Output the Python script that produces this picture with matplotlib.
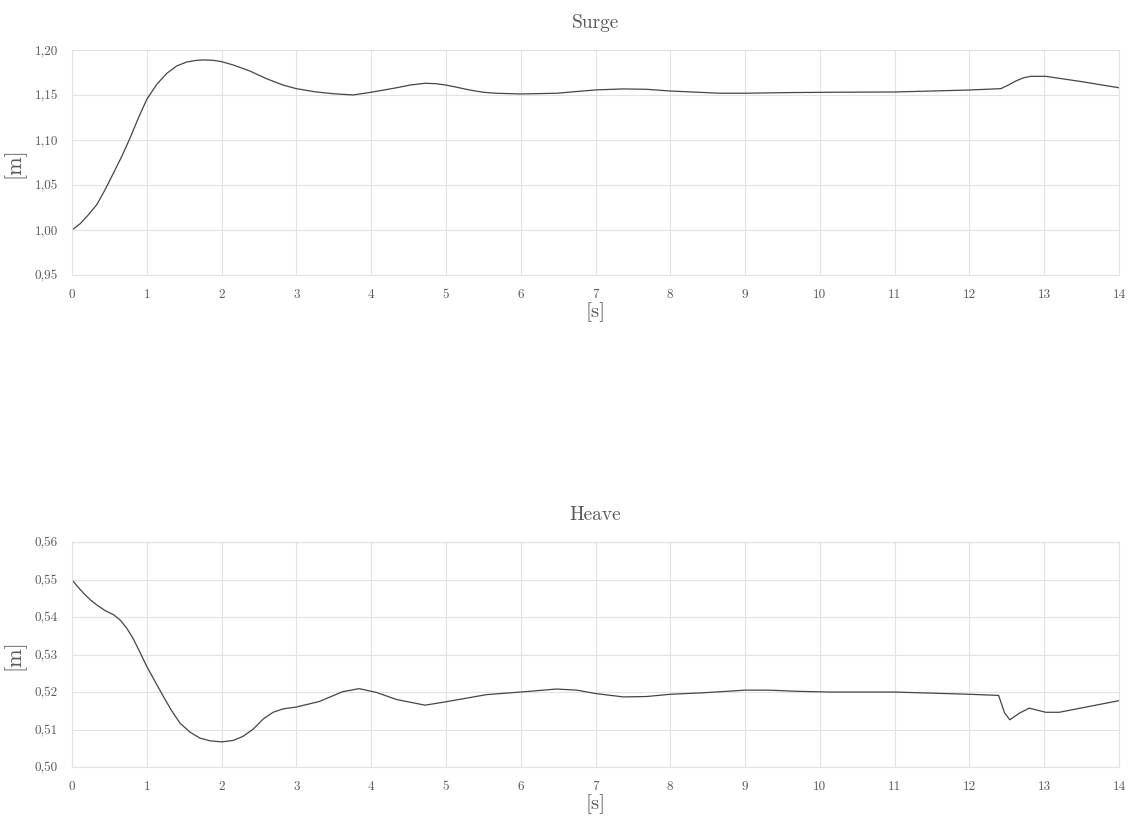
import matplotlib.pyplot as plt

plt.rcParams['font.family'] = ['cmr10', 'DejaVu Serif']
plt.rcParams['axes.unicode_minus'] = False

# surge time series
surge_t = [0, 0.111, 0.222, 0.333, 0.444, 0.556, 0.667, 0.778, 0.889, 1.0, 1.133, 1.267,
           1.4, 1.533, 1.667, 1.764, 1.889, 2.0, 2.156, 2.378, 2.6, 2.822, 3.0, 3.25, 3.49,
           3.76, 4.0, 4.17, 4.34, 4.52, 4.72, 4.87, 5.0, 5.15, 5.31, 5.5, 5.67, 6.0, 6.48,
           7.0, 7.37, 7.68, 8.0, 8.66, 9.0, 9.55, 10.13, 11.0, 12.0, 12.42, 12.52, 12.62,
           12.72, 12.82, 13.02, 13.5, 14.0]
surge_m = [1.000, 1.0071, 1.0171, 1.0283, 1.045, 1.0635, 1.082, 1.1025, 1.1247, 1.1451,
           1.1618, 1.174, 1.1822, 1.1866, 1.1885, 1.1889, 1.1885, 1.187, 1.1833, 1.1766,
           1.1681, 1.161, 1.157, 1.1535, 1.1514, 1.150, 1.153, 1.1555, 1.158, 1.161, 1.163,
           1.1625, 1.161, 1.1585, 1.1556, 1.153, 1.1519, 1.1511, 1.1519, 1.1556, 1.1567,
           1.1563, 1.1544, 1.1519, 1.1519, 1.1526, 1.153, 1.1533, 1.1555, 1.157, 1.161,
           1.1655, 1.169, 1.1707, 1.1707, 1.1648, 1.158]

# heave time series
heave_t = [0, 0.067, 0.156, 0.244, 0.333, 0.444, 0.556, 0.644, 0.733, 0.822, 0.911, 1.0,
           1.111, 1.222, 1.333, 1.444, 1.578, 1.711, 1.844, 2.0, 2.156, 2.289, 2.422, 2.556,
           2.689, 2.822, 3.0, 3.31, 3.62, 3.84, 4.07, 4.34, 4.72, 5.0, 5.54, 6.0, 6.48,
           6.75, 7.0, 7.37, 7.68, 8.0, 8.44, 9.0, 9.33, 9.68, 10.13, 11.0, 12.0, 12.39,
           12.47, 12.54, 12.67, 12.8, 13.02, 13.2, 14.0]
heave_m = [0.5499, 0.5483, 0.5463, 0.5446, 0.5432, 0.5417, 0.5406, 0.5392, 0.537, 0.5341,
           0.5305, 0.5268, 0.5228, 0.5188, 0.515, 0.5117, 0.5093, 0.5077, 0.507, 0.5067,
           0.5071, 0.5082, 0.5101, 0.5128, 0.5146, 0.5155, 0.516, 0.5175, 0.5201, 0.5209,
           0.5199, 0.518, 0.5165, 0.5174, 0.5193, 0.520, 0.5208, 0.5205, 0.5196, 0.5187,
           0.5188, 0.5194, 0.5198, 0.5205, 0.5205, 0.5202, 0.520, 0.520, 0.5194, 0.5191,
           0.5144, 0.5126, 0.5144, 0.5157, 0.5146, 0.5146, 0.5177]

x_ticks = list(range(0, 15))
surge_ticks = [0.95, 1.00, 1.05, 1.10, 1.15, 1.20]
heave_ticks = [0.50, 0.51, 0.52, 0.53, 0.54, 0.55, 0.56]

text_col = '#595959'
grid_col = '#e2e2e2'

fig = plt.figure(figsize=(11.34, 8.23), dpi=100)
ax1 = fig.add_axes([0.0635, 0.6659, 0.9233, 0.2734])
ax2 = fig.add_axes([0.0635, 0.068, 0.9233, 0.2734])

panels = [
    (ax1, surge_t, surge_m, surge_ticks, 'Surge'),
    (ax2, heave_t, heave_m, heave_ticks, 'Heave'),
]

for ax, t, m, yt, title in panels:
    ax.plot(t, m, color='#454545', lw=0.9)
    ax.set_xlim(0, 14)
    ax.set_ylim(yt[0], yt[-1])
    ax.set_xticks(x_ticks)
    ax.set_xticklabels([str(v) for v in x_ticks])
    ax.set_yticks(yt)
    ax.set_yticklabels([f'{v:.2f}'.replace('.', ',') for v in yt])
    ax.grid(True, color=grid_col, lw=0.8)
    ax.set_axisbelow(True)
    for s in ax.spines.values():
        s.set_color(grid_col)
        s.set_linewidth(0.8)
    ax.tick_params(length=0, labelsize=9.5, colors=text_col, pad=10)
    ax.set_title(title, fontsize=14, color=text_col, pad=16)
    ax.set_xlabel('[s]', fontsize=15, color=text_col, labelpad=1)
    ax.set_ylabel('[m]', fontsize=16, color=text_col, labelpad=7)

fig.savefig('out.png', dpi=100)
